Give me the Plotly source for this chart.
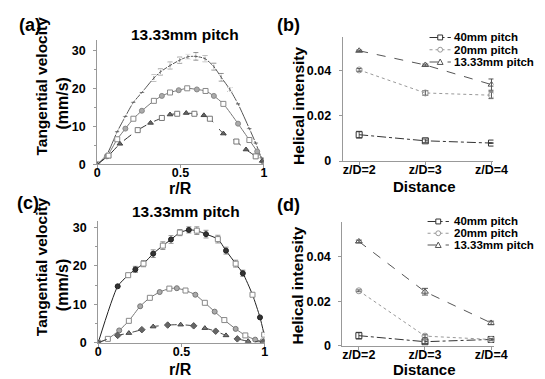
import plotly.graph_objects as go

W, H = 545, 379

# ---------------- data ----------------
# panel (a): tangential velocity vs r/R
r_a_top = [0, 0.058, 0.12, 0.169, 0.217, 0.268, 0.34, 0.379, 0.437, 0.495, 0.544, 0.592, 0.647, 0.70, 0.744, 0.796, 0.845, 0.913, 0.951, 0.986, 1.0]
v_a_top = [0, 2.6, 8.6, 12.6, 16.3, 18.9, 22.7, 24.3, 26.0, 27.4, 28.3, 28.4, 27.8, 25.7, 22.9, 19.7, 15.9, 9.4, 5.6, 1.7, 0.9]
e_a_top = [0, 0, 0, 0, 0, 0, 0.8, 0.8, 0.9, 0.8, 0.6, 1.0, 0.8, 0.9, 1.0, 0.5, 0, 0, 0, 0, 0]

r_a_mid = [0, 0.058, 0.12, 0.169, 0.217, 0.268, 0.34, 0.388, 0.437, 0.489, 0.54, 0.598, 0.65, 0.70, 0.757, 0.845, 0.913, 0.96, 1.0]
v_a_mid = [0, 2.1, 6.6, 9.4, 12.0, 14.1, 16.7, 18.0, 18.9, 19.5, 20.0, 19.7, 19.3, 18.0, 15.9, 10.7, 6.4, 3.4, 0.9]

r_a_bot = [0, 0.068, 0.136, 0.243, 0.32, 0.388, 0.437, 0.48, 0.534, 0.583, 0.64, 0.676, 0.757, 0.835, 0.893, 0.951, 0.99]
v_a_bot = [0, 2.3, 5.4, 9.0, 10.9, 12.2, 13.1, 13.3, 13.5, 13.3, 12.9, 12.0, 8.1, 6.0, 3.9, 2.1, 0.9]

# panel (c)
r_c_top = [0, 0.117, 0.18, 0.223, 0.272, 0.33, 0.388, 0.437, 0.49, 0.544, 0.592, 0.647, 0.718, 0.767, 0.825, 0.868, 0.926, 0.971, 0.996]
v_c_top = [0, 14.7, 17.6, 19.1, 20.6, 23.2, 25.3, 26.9, 28.7, 29.4, 29.2, 28.3, 27.0, 24.0, 20.6, 18.1, 12.5, 6.6, 2.1]
e_c_top = [0, 0, 0, 0.8, 0.8, 1.0, 1.0, 1.0, 0.8, 0.8, 1.0, 1.0, 1.0, 0.9, 0.9, 0.8, 0, 0, 0]

r_c_mid = [0, 0.058, 0.126, 0.184, 0.252, 0.31, 0.369, 0.427, 0.472, 0.524, 0.583, 0.64, 0.699, 0.757, 0.825, 0.883, 0.942, 0.99]
v_c_mid = [0, 1.0, 3.2, 5.7, 9.5, 11.7, 13.2, 14.1, 14.2, 13.6, 12.5, 10.4, 8.1, 5.9, 3.6, 1.9, 0.8, 0.3]

r_c_bot = [0, 0.117, 0.184, 0.262, 0.33, 0.417, 0.495, 0.573, 0.64, 0.705, 0.767, 0.835, 0.9, 0.99]
v_c_bot = [0, 1.9, 2.5, 3.4, 4.2, 4.6, 4.7, 4.4, 3.8, 3.0, 1.9, 1.0, 0.4, 0.2]

# panels (b) and (d): helical intensity vs distance
distances = ["z/D=2", "z/D=3", "z/D=4"]
series_names = ["40mm pitch", "20mm pitch", "13.33mm pitch"]

hel_b_40 = [0.0117, 0.0090, 0.0080]
hel_b_20 = [0.0404, 0.0302, 0.0292]
hel_b_13 = [0.0489, 0.0426, 0.0339]
err_b_40 = [0.0015, 0.0008, 0.0002]
err_b_20 = [0.0006, 0.0010, 0.0015]
err_b_13 = [0.0003, 0.0004, 0.0025]

hel_d_40 = [0.0046, 0.0019, 0.0029]
hel_d_20 = [0.0247, 0.0044, 0.0029]
hel_d_13 = [0.0468, 0.0243, 0.0103]
err_d_40 = [0.0015, 0.0008, 0.0002]
err_d_20 = [0.0004, 0.0006, 0.0003]
err_d_13 = [0.0006, 0.0015, 0.0008]

y_ticks_vel = [0, 10, 20, 30]
y_ticks_hel = [0, 0.02, 0.04]
y_tick_hel_text = ["0", "0.02", "0.04"]
x_ticks_r = [0, 0.5, 1]
x_tick_r_text = ["0", "0.5", "1"]

# ---------------- helpers ----------------
FONT = "Liberation Sans, Arial, sans-serif"


def px(x):
    return x / W


def py(y):
    return 1 - y / H


def alt(n, a, b):
    return [a if i % 2 == 0 else b for i in range(n)]


fig = go.Figure()


def curve(xs, ys, xa, ya, line_color, dash, sym, mcol, fill, err=None, lw=1.0):
    kw = {}
    if err is not None:
        kw["error_y"] = dict(type="data", array=err, visible=True, color="#777",
                             thickness=0.8, width=2.5)
    fig.add_trace(go.Scatter(
        x=xs, y=ys, xaxis=xa, yaxis=ya, mode="lines+markers",
        line=dict(color=line_color, width=lw, dash=dash, shape="spline", smoothing=0.6),
        marker=dict(symbol=sym, size=5, color=fill,
                    line=dict(color=mcol, width=1)),
        showlegend=False, **kw))


# panel (a)
n = len(r_a_top)
curve(r_a_top, v_a_top, "x", "y", "#555", "solid",
      alt(n, "square-open", "circle-open"), "#888", "white", e_a_top)
n = len(r_a_mid)
curve(r_a_mid, v_a_mid, "x", "y", "#777", "solid",
      alt(n, "square", "circle"), "#888", alt(n, "white", "#aaa"))
n = len(r_a_bot)
curve(r_a_bot, v_a_bot, "x", "y", "#333", "dash",
      alt(n, "triangle-up", "square"), alt(n, "#444", "#777"), alt(n, "#666", "white"))

# panel (c)
n = len(r_c_top)
curve(r_c_top, v_c_top, "x3", "y3", "#222", "solid",
      alt(n, "square", "circle"), alt(n, "#888", "#222"), alt(n, "white", "#333"), e_c_top)
n = len(r_c_mid)
curve(r_c_mid, v_c_mid, "x3", "y3", "#777", "solid",
      alt(n, "circle", "square"), alt(n, "#777", "#888"), alt(n, "#aaa", "white"))
n = len(r_c_bot)
curve(r_c_bot, v_c_bot, "x3", "y3", "#444", "dash",
      alt(n, "triangle-up", "diamond"), alt(n, "#444", "#555"), alt(n, "#777", "#666"))

# panels (b), (d)
hel_styles = [
    dict(color="#333", dash="dashdot", sym="square-open"),
    dict(color="#999", dash="dot", sym="circle-open"),
    dict(color="#555", dash="dash", sym="triangle-up-open"),
]
cat_x = list(range(len(distances)))
for xa, ya, vals, errs in [
    ("x2", "y2", [hel_b_40, hel_b_20, hel_b_13], [err_b_40, err_b_20, err_b_13]),
    ("x4", "y4", [hel_d_40, hel_d_20, hel_d_13], [err_d_40, err_d_20, err_d_13]),
]:
    for st, v, e in zip(hel_styles, vals, errs):
        fig.add_trace(go.Scatter(
            x=cat_x, y=v, xaxis=xa, yaxis=ya, mode="lines+markers",
            line=dict(color=st["color"], width=1.0, dash=st["dash"]),
            marker=dict(symbol=st["sym"], size=6, color=st["color"],
                        line=dict(width=1)),
            error_y=dict(type="data", array=e, visible=True, color="#444",
                         thickness=0.9, width=3),
            showlegend=False))

# ---------------- axes ----------------
tickfont = dict(family=FONT, size=12.5, color="black", weight="bold")
common = dict(showline=True, linecolor="#999", linewidth=1, showgrid=False,
              zeroline=False, ticks="outside", ticklen=3, tickcolor="#999",
              tickfont=tickfont, fixedrange=True)
xcommon = dict(common, ticklabelstandoff=-6)
ycommon = dict(common, ticklabelstandoff=5)

fig.update_layout(
    width=W, height=H, margin=dict(l=0, r=0, t=0, b=0),
    paper_bgcolor="white", plot_bgcolor="white", showlegend=False,
    xaxis=dict(domain=[px(89), px(261)], range=[0, 1.0], anchor="y",
               tickvals=x_ticks_r, ticktext=x_tick_r_text, **xcommon),
    yaxis=dict(domain=[py(159.3), py(33)], range=[0, 32.6], anchor="x",
               tickvals=y_ticks_vel,
               minor=dict(dtick=5, ticks="outside", ticklen=2, tickcolor="#999"),
               **ycommon),
    xaxis2=dict(domain=[px(342.3), px(498)], range=[-0.25, 2.03], anchor="y2",
                tickvals=cat_x, ticktext=distances, **xcommon),
    yaxis2=dict(domain=[py(156), py(30)], range=[0, 0.0548], anchor="x2",
                tickvals=y_ticks_hel, ticktext=y_tick_hel_text, **ycommon),
    xaxis3=dict(domain=[px(90), px(262)], range=[0, 1.0], anchor="y3",
                tickvals=x_ticks_r, ticktext=x_tick_r_text, **xcommon),
    yaxis3=dict(domain=[py(341), py(216.7)], range=[0, 31.8], anchor="x3",
                tickvals=y_ticks_vel,
                minor=dict(dtick=5, ticks="outside", ticklen=2, tickcolor="#999"),
                **ycommon),
    xaxis4=dict(domain=[px(342), px(499)], range=[-0.25, 2.05], anchor="y4",
                tickvals=cat_x, ticktext=distances, **xcommon),
    yaxis4=dict(domain=[py(344.3), py(218.3)], range=[0, 0.0554], anchor="x4",
                tickvals=y_ticks_hel, ticktext=y_tick_hel_text, **ycommon),
)

# ---------------- text ----------------
annots = []


def txt(s, x, y, size, xanchor="center", angle=0):
    annots.append(dict(text=s, x=px(x), y=py(y), xref="paper", yref="paper",
                       xanchor=xanchor, yanchor="middle", showarrow=False,
                       textangle=angle, borderpad=0,
                       font=dict(family=FONT, size=size, color="black", weight="bold")))


txt("(a)", 7, 17, 18, "left")
txt("(b)", 274, 17, 18, "left")
txt("(c)", 5, 199, 18, "left")
txt("(d)", 274, 201, 18, "left")
txt("13.33mm pitch", 180, 27, 15.5)
txt("13.33mm pitch", 181, 207, 15.5)
ROT_SHIFT = -9
for cy1, cy2 in [(80, 97), (264, 282)]:
    txt("Tangential velocity", 40 + ROT_SHIFT, cy1, 15.5, angle=-90)
    txt("(mm/s)", 62 + ROT_SHIFT, cy2, 16, angle=-90)
txt("r/R", 175, 184, 16)
txt("r/R", 175, 368, 16)
txt("Helical intensity", 305 + ROT_SHIFT, 100, 15.5, angle=-90)
txt("Helical intensity", 305 + ROT_SHIFT, 283, 15.5, angle=-90)
txt("Distance", 427, 182, 15)
txt("Distance", 427, 368, 15)

# manual compact legends
shapes = []
for rows, x0, x1 in [((30, 42.5, 55), 432, 454), ((217.5, 229.5, 241.5), 430, 452)]:
    for yy, name, st in zip(rows, series_names, hel_styles):
        shapes.append(dict(type="line", xref="paper", yref="paper",
                           x0=px(x0), x1=px(x1), y0=py(yy), y1=py(yy),
                           line=dict(color=st["color"], width=1.1, dash=st["dash"])))
        cx = (x0 + x1) / 2
        r = 2.5
        if st["sym"].startswith("square"):
            shapes.append(dict(type="rect", xref="paper", yref="paper",
                               x0=px(cx - r), x1=px(cx + r), y0=py(yy - r), y1=py(yy + r),
                               fillcolor="white", line=dict(color=st["color"], width=1)))
        elif st["sym"].startswith("circle"):
            shapes.append(dict(type="circle", xref="paper", yref="paper",
                               x0=px(cx - r), x1=px(cx + r), y0=py(yy - r), y1=py(yy + r),
                               fillcolor="white", line=dict(color=st["color"], width=1)))
        else:
            path = "M {} {} L {} {} L {} {} Z".format(
                px(cx), py(yy - 3), px(cx - 3), py(yy + 2.5), px(cx + 3), py(yy + 2.5))
            shapes.append(dict(type="path", xref="paper", yref="paper", path=path,
                               fillcolor="white", line=dict(color=st["color"], width=1)))
        txt(name, 456, yy, 11.5, "left")

fig.update_layout(annotations=annots, shapes=shapes)

fig.write_html("out.html")
